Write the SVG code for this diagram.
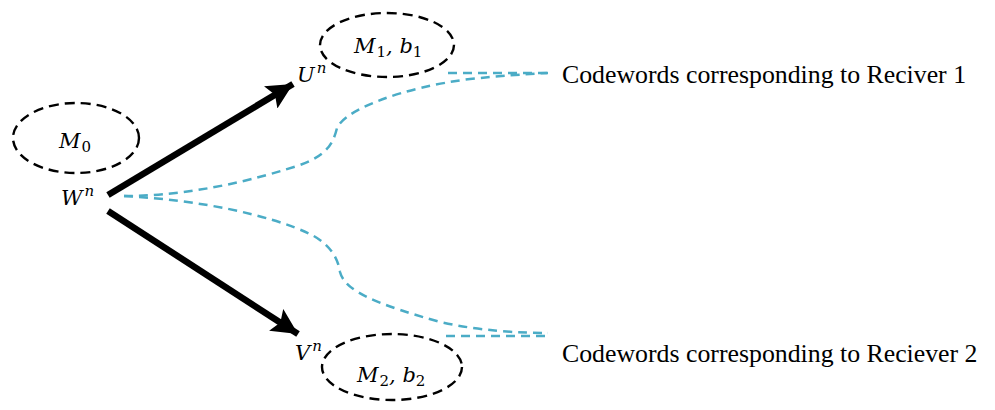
<svg xmlns="http://www.w3.org/2000/svg" width="995" height="410" viewBox="0 0 995 410">
<style>
.ell{fill:none;stroke:#000;stroke-width:2.4;stroke-dasharray:10 6}
.cw{fill:none;stroke:#4bacc6;stroke-width:2.5;stroke-dasharray:9 6}
.arr{fill:none;stroke:#000;stroke-width:6.5}
.m{font-family:"DejaVu Serif","Liberation Serif",serif;font-style:italic;font-size:21px;fill:#000}
.sub{font-style:normal;font-size:15px}
.sup{font-size:15px}
.lbl{font-family:"Liberation Serif","Times New Roman",serif;font-size:25.8px;fill:#000}
</style>
<defs>
<marker id="ah" markerUnits="userSpaceOnUse" markerWidth="28" markerHeight="26" refX="26" refY="13" orient="auto">
<path d="M0,0 L26,13 L0,26 L5,13 Z" fill="#000"/>
</marker>
</defs>
<g id="connectors">
<line class="arr" x1="108" y1="195" x2="293" y2="84" marker-end="url(#ah)"/>
<line class="arr" x1="108" y1="211" x2="298" y2="334" marker-end="url(#ah)"/>
<path class="cw" d="M124,196 C170,196 230,188 300,165 C325,156 333,145 337,128 C345,110 400,88 470,79 C500,76 525,74 548,73"/>
<path class="cw" d="M448,73 L548,73"/>
<path class="cw" d="M124,196 C200,200 270,215 310,234 C330,244 338,258 340,272 C345,292 380,305 440,322 C480,331 520,333 548,333"/>
<path class="cw" d="M446,336 L548,336"/>
</g>
<g id="node-M0">
<ellipse class="ell" cx="76" cy="138" rx="63" ry="35"/>
<text class="m" x="59" y="148">M<tspan class="sub" dx="1" dy="4">0</tspan></text>
</g>
<g id="node-Wn">
<text class="m" x="61" y="205">W<tspan class="sup" dx="2" dy="-9">n</tspan></text>
</g>
<g id="node-M1b1">
<ellipse class="ell" cx="387" cy="45" rx="67" ry="32"/>
<text class="m" x="354" y="53">M<tspan class="sub" dx="1" dy="4">1</tspan><tspan dy="-4">, b</tspan><tspan class="sub" dy="4">1</tspan></text>
</g>
<g id="node-Un">
<text class="m" x="297" y="82">U<tspan class="sup" dx="2" dy="-9">n</tspan></text>
</g>
<g id="node-M2b2">
<ellipse class="ell" cx="392" cy="367" rx="70" ry="33"/>
<text class="m" x="357" y="382">M<tspan class="sub" dx="1" dy="4">2</tspan><tspan dy="-4">, b</tspan><tspan class="sub" dy="4">2</tspan></text>
</g>
<g id="node-Vn">
<text class="m" x="295" y="360">V<tspan class="sup" dx="2" dy="-9">n</tspan></text>
</g>
<g id="label-r1">
<text class="lbl" x="562" y="83">Codewords corresponding to Reciver 1</text>
</g>
<g id="label-r2">
<text class="lbl" x="562" y="362">Codewords corresponding to Reciever 2</text>
</g>
</svg>
